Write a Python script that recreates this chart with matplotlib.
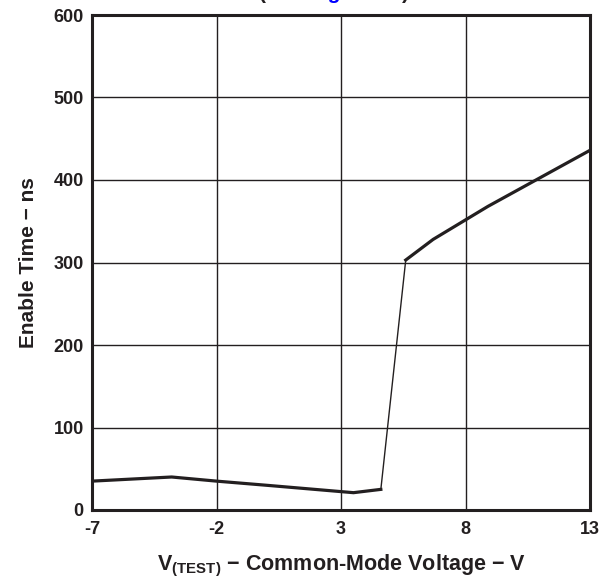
import matplotlib
matplotlib.use("Agg")
import matplotlib.pyplot as plt

plt.rcParams['font.family'] = ['Liberation Sans', 'DejaVu Sans']
plt.rcParams['font.weight'] = 'bold'
plt.rcParams['mathtext.fontset'] = 'custom'
plt.rcParams['mathtext.rm'] = 'Liberation Sans:bold'
plt.rcParams['mathtext.bf'] = 'Liberation Sans:bold'
plt.rcParams['mathtext.default'] = 'bf'

INK = '#231f20'

# Curve
v_low = [-7, -3.8, -2, 0, 3.5, 4.6]
t_low = [35, 40, 35, 30, 21, 25]
v_jump = [4.6, 5.6]
t_jump = [25, 303]
v_high = [5.6, 6.7, 8.9, 13]
t_high = [303, 328, 368, 436]

x_ticks = [-7, -2, 3, 8, 13]
y_ticks = [0, 100, 200, 300, 400, 500, 600]

fig = plt.figure(figsize=(5.99, 5.82), dpi=100)
ax = fig.add_axes([92 / 599, 72 / 582, 498 / 599, 495 / 582])

ax.plot(v_low, t_low, color=INK, lw=2.3, solid_joinstyle='miter')
ax.plot(v_jump, t_jump, color=INK, lw=1.0)
ax.plot(v_high, t_high, color=INK, lw=2.3, solid_joinstyle='miter')

ax.set_xlim(-7, 13)
ax.set_ylim(0, 600)
ax.set_xticks(x_ticks)
ax.set_yticks(y_ticks)
ax.set_xticklabels([str(v) for v in x_ticks])
ax.grid(True, color=INK, lw=1.0)
ax.tick_params(length=0, labelsize=13, colors=INK)
ax.tick_params(axis='x', pad=8)
ax.tick_params(axis='y', pad=6)
for s in ax.spines.values():
    s.set_linewidth(2.2)
    s.set_color(INK)

ax.set_xlabel(r'V$_{\mathbf{(TEST)}}$ − Common-Mode Voltage − V',
              fontsize=15.5, fontweight='bold', color=INK, labelpad=11)
ax.set_ylabel('Enable Time − ns', fontsize=15, fontweight='bold',
              color=INK, labelpad=11)

# title clipped at the top edge, only descenders show
ytop = 1 + 1 / 582
fig.canvas.draw()
r = fig.canvas.get_renderer()
t1 = fig.text(259 / 599, ytop, '(See ', ha='left', va='baseline', fontsize=15, color=INK)
x = t1.get_window_extent(r).x1
t2 = fig.text(x / 599, ytop, 'Figure 10', ha='left', va='baseline', fontsize=15, color='#0000ff')
x = t2.get_window_extent(r).x1
fig.text(x / 599, ytop, ')', ha='left', va='baseline', fontsize=15, color=INK)

fig.savefig('out.png', dpi=100)
